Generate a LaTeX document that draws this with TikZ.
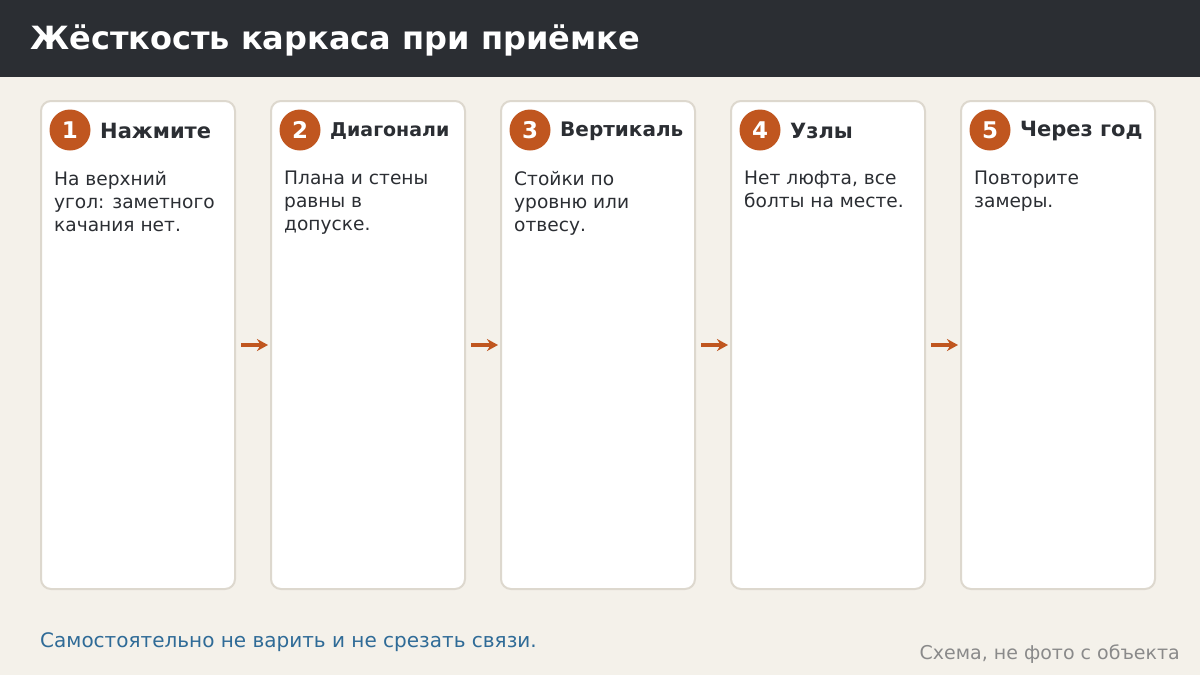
\documentclass[tikz,border=0pt]{standalone}
\usepackage{fontspec}
\setmainfont{DejaVu Sans}
\usetikzlibrary{arrows.meta,positioning}

\definecolor{headbg}{HTML}{2B2E33}
\definecolor{pagebg}{HTML}{F4F1EA}
\definecolor{cardline}{HTML}{DDD8CE}
\definecolor{rust}{HTML}{C0561F}
\definecolor{inktext}{HTML}{2B2E33}
\definecolor{noteblue}{HTML}{2F6B97}
\definecolor{notegray}{HTML}{8A8A8A}

\tikzset{
  card/.style={draw=cardline,line width=2pt,fill=white,rounded corners=10pt,
    minimum width=194pt,minimum height=488pt,inner sep=0pt},
  badge/.style={circle,fill=rust,minimum size=41pt,inner sep=0pt,text=white,
    font=\fontsize{23}{23}\selectfont\bfseries},
  cardtitle/.style={anchor=west,inner sep=0pt,text=inktext,
    font=\fontsize{21}{21}\selectfont\bfseries},
  cardbody/.style={anchor=north west,inner sep=0pt,text=inktext,align=left,
    font=\fontsize{18.6}{23}\selectfont},
  flow/.style={rust,line width=3.5pt,-{Stealth[length=11pt,width=12pt]}}
}

\begin{document}
\begin{tikzpicture}[x=1pt,y=-1pt]

  % page and header band
  \fill[pagebg] (0,0) rectangle (1200,675);
  \useasboundingbox (0,0) rectangle (1200,675);
  \fill[headbg] (0,0) rectangle (1200,77);
  \node[anchor=base west,inner sep=0pt,text=white,font=\fontsize{32}{32}\selectfont\bfseries]
    (title) at (30,49) {Жёсткость каркаса при приёмке};

  % cards
  \node[card] (c1) at (138,345) {};
  \node[card] (c2) at (368,345) {};
  \node[card] (c3) at (598,345) {};
  \node[card] (c4) at (828,345) {};
  \node[card] (c5) at (1058,345) {};

  % badges and titles
  \node[badge] (b1) at (70,130) {1};
  \node[cardtitle] (t1) at (100,131) {Нажмите};
  \node[badge] (b2) at (300,130) {2};
  \node[cardtitle,font=\fontsize{19}{19}\selectfont\bfseries] (t2) at (330,131) {Диагонали};
  \node[badge] (b3) at (530,130) {3};
  \node[cardtitle,font=\fontsize{20}{20}\selectfont\bfseries] (t3) at (560,131) {Вертикаль};
  \node[badge] (b4) at (760,130) {4};
  \node[cardtitle] (t4) at (790,131) {Узлы};
  \node[badge] (b5) at (990,130) {5};
  \node[cardtitle] (t5) at (1020,131) {Через год};

  % card texts
  \node[cardbody] (d1) at (54,171) {На верхний\\угол: заметного\\качания нет.};
  \node[cardbody] (d2) at (284,171) {Плана и стены\\равны в\\допуске.};
  \node[cardbody] (d3) at (514,171) {Стойки по\\уровню или\\отвесу.};
  \node[cardbody] (d4) at (744,171) {Нет люфта, все\\болты на месте.};
  \node[cardbody] (d5) at (974,171) {Повторите\\замеры.};

  % arrows between cards
  \draw[flow] ([xshift=5pt]c1.east) -- ([xshift=-2pt]c2.west);
  \draw[flow] ([xshift=5pt]c2.east) -- ([xshift=-2pt]c3.west);
  \draw[flow] ([xshift=5pt]c3.east) -- ([xshift=-2pt]c4.west);
  \draw[flow] ([xshift=5pt]c4.east) -- ([xshift=-2pt]c5.west);

  % notes at the bottom
  \node[anchor=base west,inner sep=0pt,text=noteblue,font=\fontsize{20}{20}\selectfont]
    (warn) at (40,647) {Самостоятельно не варить и не срезать связи.};
  \node[anchor=base east,inner sep=0pt,text=notegray,font=\fontsize{19}{19}\selectfont]
    (src) at (1180,659) {Схема, не фото с объекта};

\end{tikzpicture}
\end{document}
